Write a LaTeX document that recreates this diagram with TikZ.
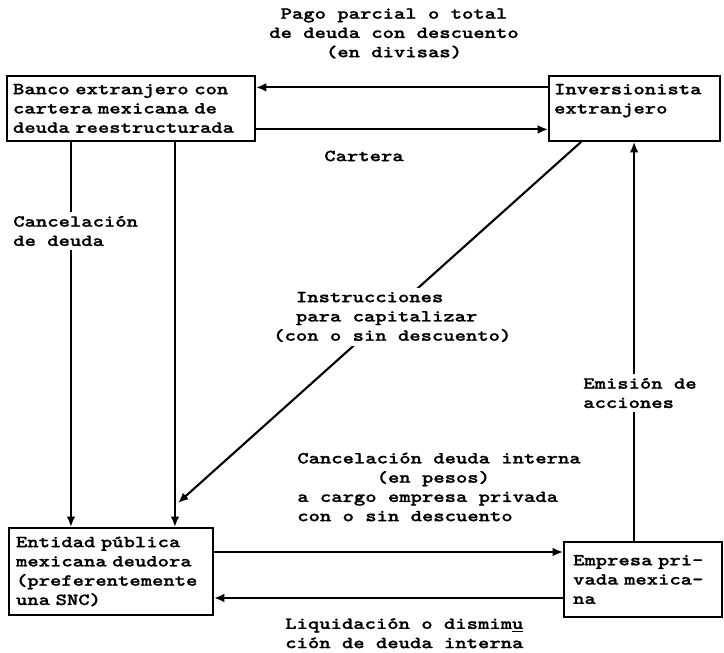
\documentclass[tikz,border=0pt]{standalone}
\usepackage{fontspec}
\usepackage{tikz}
\newfontfamily\maquina[FakeStretch=1.28, FakeBold=1.2]{lmmonolt10-bold.otf}
\usetikzlibrary{
    arrows.meta,             % For the arrow tips
    positioning,             % For relative placement of nodes (e.g., right=of)
    calc                     % For coordinate calculations
}

\begin{document}
\begin{tikzpicture}[
    font=\maquina\fontsize{12}{13.7}\selectfont,
    caja/.style={draw, line width=1.5pt, align=left, inner ysep=0pt},
    flecha/.style={-{Latex[length=2.6mm, width=2.2mm]}, line width=1.5pt},
    rotulo/.style={align=left, inner sep=0pt},
    tapa/.style={rotulo, fill=white, inner ysep=3pt}
]
    \useasboundingbox (0,0) rectangle (18.1,16.3);

    % --- Las cuatro cajas ---
    \node[caja, text width=5.9cm, inner xsep=0.15cm, minimum height=1.625cm]
        (banco) at (3.275, 13.59) {Banco extranjero con\\cartera mexicana de\\deuda reestructurada};
    \node[caja, text width=4.025cm, inner xsep=0.125cm, minimum height=1.625cm,
          right=7.3cm of banco] (inversionista) {Inversionista\\extranjero\\\mbox{}};
    \node[caja, text width=4.75cm, inner xsep=0.175cm, minimum height=2.175cm]
        (entidad) at (2.775, 2.0125) {Entidad pública\\mexicana deudora\\(preferentemente\\una SNC)};
    \node[caja, text width=3.5cm, inner xsep=0.225cm, minimum height=1.875cm,
          right=8.725cm of entidad, yshift=-0.2cm] (empresa) {Empresa pri-\\vada mexica-\\na};

    % --- Arriba: banco e inversionista ---
    \node[align=center] (pago) at (9.85, 15.4625) {Pago parcial o total\\de deuda con descuento\\(en divisas)};
    \draw[flecha] ([yshift=0.525cm]inversionista.west) -- ([yshift=0.525cm]banco.east);
    \draw[flecha] ([yshift=-0.525cm]banco.east) -- ([yshift=-0.525cm]inversionista.west);
    \node (cartera) at (9.1, 12.4) {Cartera};

    % --- Bajadas del banco a la entidad ---
    \draw[flecha] ([xshift=1.625cm]banco.south west) coordinate (b1) -- (b1 |- entidad.north);
    \draw[flecha] ([xshift=4.225cm]banco.south west) coordinate (b2) -- (b2 |- entidad.north);
    \coordinate (junta) at (4.45, 3.725);
    \draw[flecha] ([xshift=0.825cm]inversionista.south west) -- (junta);
    \draw[flecha] ([xshift=-0.225cm]empresa.north) coordinate (e3) -- (e3 |- inversionista.south);

    % --- Abajo: entidad y empresa ---
    \draw[flecha] ([yshift=0.4875cm]entidad.east) coordinate (e1) -- (e1 -| empresa.west);
    \path ([yshift=-0.6625cm]entidad.east) coordinate (e2);
    \draw[flecha] (e2 -| empresa.west) -- (e2);

    % --- Rotulos (los blancos tapan las lineas) ---
    \node[tapa, anchor=west] (cancelacion) at (0.325, 10.525) {Cancelación\\de deuda};
    \node[tapa, anchor=west] (instrucciones) at (6.825, 8.375)
        {\phantom{xx}Instrucciones\\\phantom{xx}para capitalizar\\(con o sin descuento)};
    \node[tapa, anchor=west] (emision) at (14.575, 6.475) {Emisión de\\acciones};
    \node[rotulo, anchor=west] (interna) at (7.425, 4.125)
        {Cancelación deuda interna\\\phantom{xxxxxxx}(en pesos)\\a cargo empresa privada\\con o sin descuento};
    \node[rotulo, anchor=west] (liquidacion) at (7.125, 0.47)
        {Liquidación o dismim\underline{u}\\ción de deuda interna};
\end{tikzpicture}
\end{document}
